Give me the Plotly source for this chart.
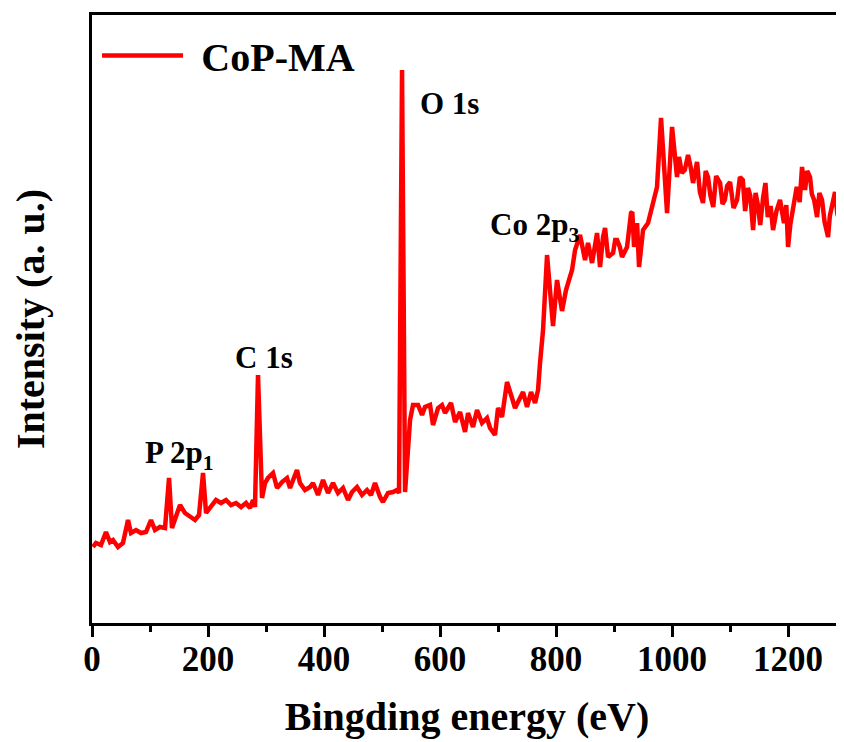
import plotly.graph_objects as go

# Binding energy (eV) and intensity (a.u.)
energy = [1.7, 6.9, 15.5, 24.1, 31.0, 36.2, 44.8, 53.4, 62.1, 67.2, 75.9, 84.5, 93.1, 101.7, 108.6,
          117.2, 125.9, 132.8, 137.9, 144.8, 151.7, 160.3, 169.0, 177.6, 184.5, 191.4, 196.6, 205.2,
          213.8, 222.4, 231.0, 239.7, 248.3, 256.9, 265.5, 272.4, 277.6, 281.0, 286.2, 293.1, 298.3,
          303.4, 312.1, 319.0, 327.6, 336.2, 341.4, 353.4, 358.6, 367.2, 375.9, 381.0, 389.7, 398.3,
          406.9, 415.5, 424.1, 432.8, 441.4, 448.3, 456.9, 465.5, 474.1, 481.0, 487.9, 496.6, 501.7,
          510.3, 519.0, 525.9, 529.3, 534.5, 539.7, 548.3, 553.4, 562.1, 569.0, 574.1, 582.8, 587.9,
          596.6, 603.4, 608.6, 619.0, 625.9, 634.5, 643.1, 648.3, 656.9, 663.8, 672.4, 681.0, 686.2,
          694.8, 700.0, 706.9, 715.5, 724.1, 729.3, 736.2, 743.1, 750.0, 756.9, 763.8, 769.0, 772.4,
          777.6, 784.5, 794.8, 801.7, 810.3, 817.2, 824.1, 827.6, 832.8, 841.4, 850.0, 855.2, 862.1,
          870.7, 875.9, 881.0, 884.5, 889.7, 898.3, 902.0, 905.2, 910.0, 913.8, 922.4, 929.3, 931.5,
          934.5, 939.7, 943.1, 950.0, 958.6, 965.5, 974.1, 981.0, 991.4, 1000.0, 1008.6, 1012.0,
          1017.0, 1022.0, 1027.6, 1032.0, 1036.2, 1043.1, 1048.0, 1053.4, 1058.0, 1062.0, 1066.0,
          1071.0, 1076.0, 1082.8, 1087.0, 1091.0, 1095.0, 1100.0, 1106.0, 1112.1, 1117.0, 1122.0,
          1126.0, 1131.0, 1135.0, 1139.7, 1144.0, 1148.0, 1152.0, 1156.9, 1161.0, 1165.0, 1170.0,
          1174.1, 1180.0, 1186.2, 1193.0, 1197.0, 1200.0, 1204.0, 1208.6, 1215.0, 1220.0, 1224.1,
          1229.3, 1233.0, 1237.9, 1241.0, 1245.0, 1250.0, 1254.0, 1258.6, 1263.0, 1269.0, 1272.0,
          1276.0, 1281.0, 1285.0, 1289.7, 1293.0]
intensity = [76, 80, 78, 91, 81, 83, 76, 80, 103, 90, 93, 90, 91, 103, 93,
             96, 95, 145, 95, 105, 118, 110, 106, 103, 108, 150, 110, 116,
             123, 120, 123, 118, 120, 116, 120, 115, 123, 116, 248, 125, 140,
             145, 150, 135, 141, 145, 135, 153, 140, 133, 136, 140, 128, 143,
             130, 140, 130, 135, 123, 131, 136, 128, 133, 128, 140, 126, 121,
             130, 131, 133, 130, 553, 131, 203, 218, 218, 208, 216, 218, 198,
             215, 218, 210, 220, 201, 211, 191, 210, 196, 213, 200, 205, 195,
             188, 215, 206, 241, 225, 215, 223, 231, 216, 231, 220, 233, 260,
             293, 368, 297, 343, 312, 333, 346, 353, 373, 388, 363, 380, 360,
             390, 356, 386, 395, 366, 370, 383, 383, 376, 366, 376, 410, 411,
             376, 400, 356, 393, 400, 416, 436, 505, 410, 496, 446, 466,
             450, 453, 468, 456, 440, 461, 431, 420, 452, 446, 428,
             416, 447, 440, 419, 423, 437, 441, 415, 423, 446, 443,
             412, 435, 427, 393, 430, 418, 398, 425, 440, 406, 417,
             393, 412, 423, 400, 418, 376, 399, 416, 436, 421, 456,
             433, 452, 446, 429, 423, 406, 430, 423, 401, 386, 407,
             416, 431, 409, 400, 420]

x_ticks = [0, 200, 400, 600, 800, 1000, 1200]
series_name = "CoP-MA"
peak_labels = ["O 1s", "C 1s", "P 2p<sub>1</sub>", "Co 2p<sub>3</sub>"]
label_x = [562, 243, 88, 683]
label_y = [520, 266, 168, 396]

FONT = "Liberation Serif"

fig = go.Figure()
fig.add_trace(go.Scatter(
    x=energy, y=intensity, mode="lines", name="\u2004" + series_name,
    line=dict(color="#ff0000", width=4.5), showlegend=True,
))

for t, lx, ly in zip(peak_labels, label_x, label_y):
    fig.add_annotation(x=lx, y=ly, text="<b>" + t + "</b>", showarrow=False,
                       xanchor="left", yanchor="middle",
                       font=dict(family=FONT, size=31, color="black"))

# page body has an 8 px default margin, so the figure is 8 px smaller and margins compensate
fig.update_layout(
    width=836, height=734,
    margin=dict(l=84, r=2, t=7, b=119, autoexpand=False),
    plot_bgcolor="white", paper_bgcolor="white",
    showlegend=True,
    legend=dict(x=0.0067, y=0.987, xanchor="left", yanchor="top",
                font=dict(family=FONT, size=40, color="black", weight="bold"),
                bgcolor="rgba(0,0,0,0)", itemwidth=81),
    font=dict(family=FONT, color="black"),
)
fig.update_xaxes(
    range=[0, 1293], tickvals=x_ticks, ticktext=[str(v) for v in x_ticks],
    ticks="outside", ticklen=11, tickwidth=3, tickcolor="black",
    minor=dict(dtick=100, tick0=0, ticks="outside", ticklen=6, tickwidth=3, tickcolor="black"),
    showline=True, linewidth=3, linecolor="black", mirror=True,
    showgrid=False, zeroline=False, automargin=False,
    tickfont=dict(family=FONT, size=35, color="black", weight="bold"),
    ticklabelstandoff=-8,
    title=dict(text="Bingding energy (eV)", standoff=24,
               font=dict(family=FONT, size=40, color="black", weight="bold")),
)
fig.update_yaxes(
    range=[0, 608], showticklabels=False, ticks="",
    showline=True, linewidth=3, linecolor="black", mirror=True,
    showgrid=False, zeroline=False, automargin=False,
    title=dict(text="Intensity (a. u.)", standoff=34,
               font=dict(family=FONT, size=40, color="black", weight="bold")),
)

fig.write_html("out.html")
